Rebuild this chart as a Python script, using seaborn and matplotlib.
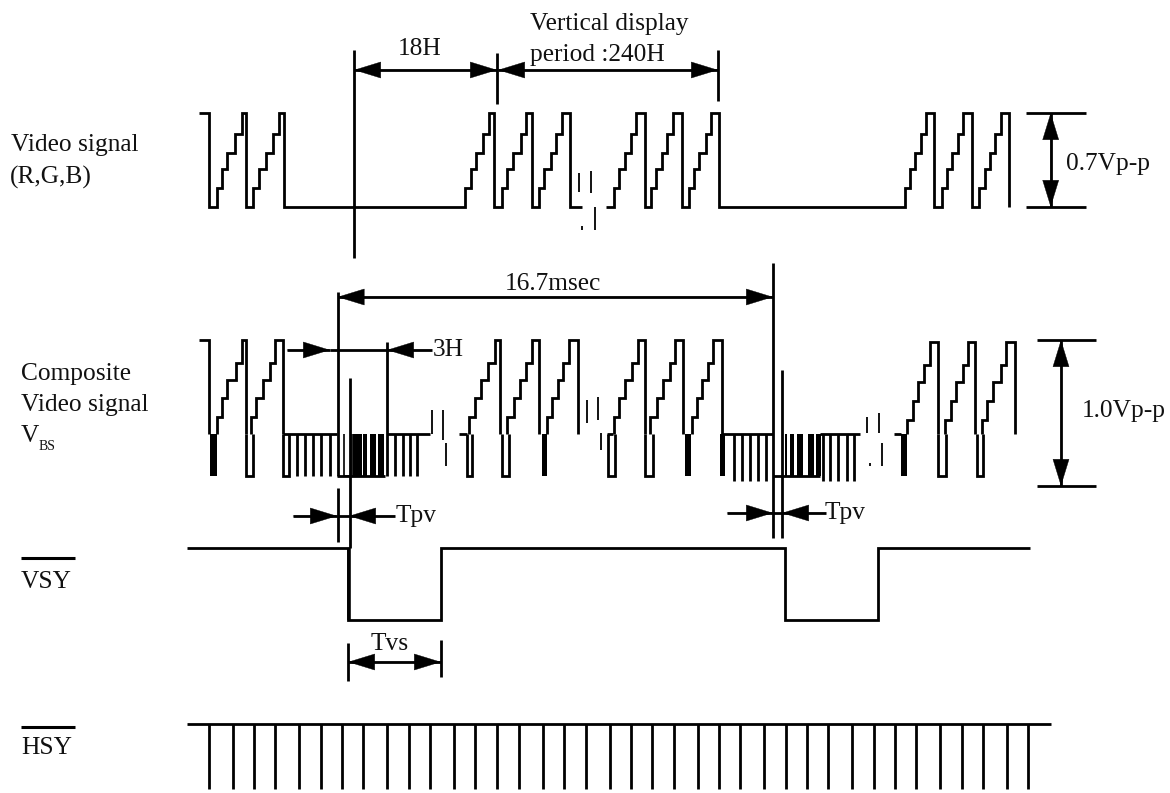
import matplotlib
matplotlib.use("Agg")
import matplotlib.pyplot as plt
import seaborn as sns

# Video signal: edges of each staircase (rise, 4 steps, fall)
video_levels = [188, 169, 153, 134, 113]
video_low = 207
video_run_1 = [
    [217, 222, 227, 235, 242, 246],
    [253.3, 259, 265.7, 273, 279.3, 283.7],
    [465, 470.7, 476, 483.3, 489.3, 494],
    [501.7, 507.3, 513.3, 520.7, 526, 532.3],
    [539, 544, 550.7, 555.7, 561.7, 570],
]
video_run_2 = [
    [614, 619.3, 625, 630.7, 635.7, 645],
    [650.7, 656, 661.7, 667.3, 673.3, 682.3],
    [689, 694, 699.3, 705.7, 710.7, 719],
    [905, 910, 915, 921.3, 926, 934.3],
    [941.7, 946.7, 951.7, 958, 963.3, 971.7],
    [979, 985, 990, 995, 1000.7, 1009.3],
]
video_frag_x = [579, 582, 590.7, 595]
video_frag_top = [173, 226, 171, 207]
video_frag_bot = [192, 230, 193, 230]

# Composite signal
comp_levels = [417, 398, 380, 363, 340]
comp_levels_late = [420, 401, 382, 365, 342]
comp_blank = 434
comp_sync = 476
comp_teeth = [
    [216.7, 222, 227, 235.7, 241.7, 246],
    [250.7, 256, 262.7, 270, 275, 283.3],
    [469, 475, 481, 488, 495, 500],
    [507, 514, 520, 526, 532, 539],
    [547, 552, 558, 563, 569, 577.7],
    [614, 619, 625, 632, 638, 645],
    [650, 657, 663, 670, 675, 683],
    [692, 697, 702, 708, 713, 721.7],
]
comp_teeth_late = [
    [907, 913, 918, 924, 930, 938],
    [945, 951, 956, 963, 968, 975],
    [982, 987, 993, 1001, 1006, 1015],
]
sync_boxes = [(246, 252.7), (283.3, 289.3), (467, 471.7), (502, 509), (608, 615),
              (645, 653), (938, 946), (977, 983), (344, 352)]
sync_blocks = [(210, 216.5), (353, 362), (363, 367), (370, 376), (378, 384),
               (541.7, 546.7), (685, 691), (720, 725), (785, 787), (790, 794),
               (797, 803), (808, 814), (816, 821), (901, 907)]
eq_pulses_1 = [297.3, 305.3, 313.3, 321.3, 330, 395, 403, 410, 417]
eq_pulses_2 = [734, 742, 750, 758, 766, 822.7, 830, 838, 847, 854]
blank_flats = [(283.3, 337), (387, 430), (459, 467), (607, 613), (722, 773), (820, 860), (894, 901)]
sync_flats = [(337, 385), (773, 820)]
comp_frag_x = [431.7, 443, 446, 587, 597.7, 600.7, 867, 870, 879, 881.7]
comp_frag_top = [410, 410, 443, 400, 397, 433, 417, 463, 413, 443]
comp_frag_bot = [434, 440, 466, 423, 420, 450, 433, 466, 433, 466]

# Sync traces
vsy_x = [187, 348, 348, 441, 441, 785, 785, 878, 878, 1030]
vsy_y = [548, 548, 620, 620, 548, 548, 620, 620, 548, 548]
hsy_ticks = [209.3, 233.3, 254.3, 275.3, 299.3, 321.3, 342.3, 363.3, 386.7, 409.3,
             430.3, 454.3, 475.3, 497.4, 518.5, 542.6, 563.7, 585.6, 609.6, 630.7,
             651.9, 673.7, 697.8, 718.9, 740, 763.7, 785.9, 807, 827.8, 851.9,
             874, 895.2, 916.3, 940, 962.2, 983.3, 1007, 1028.1]
hsy_span = (187, 1051)

# Guide lines: x, top, bottom
guide_x = [353.5, 497.3, 718, 337.5, 337.5, 387, 349.5, 773, 782, 348, 441]
guide_top = [50, 53, 50, 292, 488, 342, 378, 263, 370, 643, 640]
guide_bot = [258, 104, 101, 476, 542, 476, 548, 538, 538, 681, 677]
rule_y = [113, 207, 340, 486]
rule_left = [1026, 1026, 1037, 1037]
rule_right = [1086, 1086, 1096, 1096]

# Labels: text, x, baseline
labels = [
    ("18H", 398, 55), ("Vertical display", 530, 30), ("period :240H", 530, 61),
    ("Video signal", 11, 151), ("(R,G,B)", 10, 184), ("0.7Vp-p", 1066, 170),
    ("16.7msec", 505, 290), ("3H", 433, 356), ("Composite", 21, 380),
    ("Video signal", 21, 411), ("V", 21, 442), ("1.0Vp-p", 1082, 417),
    ("Tpv", 396, 522), ("Tpv", 825, 519), ("Tvs", 371, 650),
    ("VSY", 21, 588), ("HSY", 21, 754),
]

LW = 2.0
PX = 0.72

sns.set_theme(style="white")
plt.rcParams["font.family"] = ["Liberation Serif", "DejaVu Serif"]

fig = plt.figure(figsize=(11.7, 7.93), dpi=100)
ax = fig.add_axes([0, 0, 1, 1])


def trace(xs, ys, lw=LW):
    sns.lineplot(x=xs, y=ys, sort=False, estimator=None, errorbar=None, color="black",
                 linewidth=lw, solid_capstyle="butt", solid_joinstyle="miter",
                 legend=False, ax=ax)


def stairs(tooth, levels, low):
    xs, ys = [tooth[0]], [low]
    for k, lev in enumerate(levels):
        xs += [tooth[k], tooth[k + 1]]
        ys += [lev, lev]
    xs.append(tooth[-1])
    ys.append(low)
    return xs, ys


def run(teeth, levels, low, head_x=None, head_y=None, tail_x=None):
    xs = list(head_x or [])
    ys = list(head_y or [])
    for t in teeth:
        a, b = stairs(t, levels, low)
        xs += a
        ys += b
    if tail_x:
        xs.append(tail_x)
        ys.append(low)
    trace(xs, ys)


def ticks(xs, y0, y1, lw=LW):
    ax.vlines(xs, y0, y1, color="black", linewidth=lw, capstyle="butt")


def flats(y, spans, lw=LW):
    ax.hlines([y] * len(spans), [p[0] for p in spans], [p[1] for p in spans],
              color="black", linewidth=lw, capstyle="butt")


def arrow(x0, y0, x1, y1, style="<|-|>"):
    # head drawn with a hairline so the tip stays sharp, stem drawn on its own
    trace([x0, x1], [y0, y1])
    ax.annotate("", xy=(x1, y1), xytext=(x0, y0),
                arrowprops=dict(arrowstyle=f"{style},head_length={26 * PX},head_width={8 * PX}",
                                color="black", lw=0.3, shrinkA=0, shrinkB=0,
                                mutation_scale=1, joinstyle="miter"))


# Video signal
run(video_run_1, video_levels, video_low, [199, 209.3, 209.3], [113, 113, 207], 581.7)
run(video_run_2, video_levels, video_low, [606], [207])
ticks(video_frag_x, video_frag_top, video_frag_bot, lw=1.3)

# Composite signal
for t in comp_teeth:
    a, b = stairs(t, comp_levels, comp_blank)
    trace(a, b)
for t in comp_teeth_late:
    a, b = stairs(t, comp_levels_late, comp_blank)
    trace(a, b)
trace([199, 209.3, 209.3], [340, 340, comp_blank])
for left, right in sync_boxes:
    trace([left, left, right, right], [comp_blank, comp_sync, comp_sync, comp_blank],
          lw=1.2 if left == 344 else LW)
for left, right in sync_blocks:
    ax.fill_betweenx([comp_blank, comp_sync], left, right, color="black", linewidth=0)
ticks(eq_pulses_1, comp_blank, comp_sync)
ticks(eq_pulses_2, comp_blank, 481)
flats(comp_blank, blank_flats)
flats(comp_sync, sync_flats)
ticks(comp_frag_x, comp_frag_top, comp_frag_bot, lw=1.3)

# VSY / HSY
trace(vsy_x, vsy_y)
ax.vlines([348.5], 548, 620, color="black", linewidth=2.6)
flats(724, [hsy_span])
ticks(hsy_ticks, 724, 789)

# Guides, rules and dimension arrows
ticks(guide_x, guide_top, guide_bot)
ax.hlines(rule_y, rule_left, rule_right, color="black", linewidth=LW)
arrow(354, 70, 497, 70)
arrow(498, 70, 718, 70)
arrow(337.5, 297, 773, 297)
arrow(1050.7, 113, 1050.7, 207)
arrow(1061, 340, 1061, 486)
arrow(348, 662, 441, 662)
arrow(287, 350, 330, 350, "-|>")
flats(350, [(330, 387)])
arrow(432, 350, 387, 350, "-|>")
arrow(293, 516, 337, 516, "-|>")
flats(516, [(337, 349)])
arrow(395, 516, 349, 516, "-|>")
arrow(727, 513, 773, 513, "-|>")
flats(513, [(773, 782)])
arrow(826, 513, 782, 513, "-|>")

# Text
for txt, x, y in labels:
    ax.text(x, y, txt, fontsize=18.3, color="#111111", ha="left", va="baseline")
ax.text(39, 450, "BS", fontsize=10, color="#111111", ha="left", va="baseline")
flats(558, [(21, 75)], lw=2.2)
flats(727, [(21, 75)], lw=2.2)

ax.set_xlim(0, 1170)
ax.set_ylim(793, 0)
ax.axis("off")

plt.savefig("out.png", dpi=100)
